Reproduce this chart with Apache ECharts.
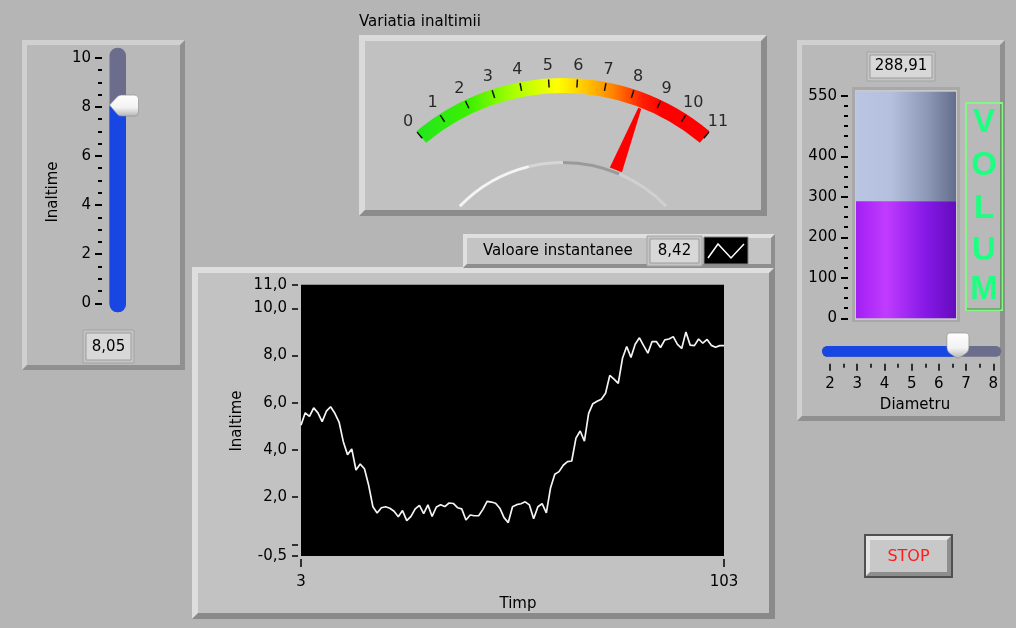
<!DOCTYPE html>
<html><head><meta charset="utf-8">
<script src="https://cdn.jsdelivr.net/npm/echarts@6/dist/echarts.min.js"></script>
<style>html,body{margin:0;padding:0;background:#b5b5b5}#c{width:1016px;height:628px}</style>
</head><body><div id="c"></div>
<script>
// ---------------- DATA ----------------
const inaltimeSlider = 8.05;          // Inaltime slider
const valoareInstantanee = 8.42;      // meter + legend value
const volum = 288.91;                 // tank
const diametru = 6.7;                 // Diametru slider
const timpStart = 3;
const timpEnd = 103;
const inaltimeSerie = [
 5.05,5.57,5.42,5.78,5.57,5.2,5.64,5.83,5.55,5.18,
 4.35,3.8,4.04,3.15,3.4,3.2,2.5,1.59,1.33,1.55,
 1.59,1.53,1.4,1.17,1.43,1.0,1.18,1.5,1.65,1.3,
 1.67,1.18,1.58,1.68,1.6,1.75,1.73,1.55,1.5,1.03,
 1.24,1.21,1.21,1.48,1.82,1.79,1.74,1.53,1.13,0.92,
 1.59,1.68,1.72,1.8,1.67,1.08,1.59,1.72,1.33,2.4,
 2.97,3.08,3.35,3.5,3.53,4.5,4.8,4.37,5.55,5.96,
 6.06,6.15,6.4,7.16,7.0,6.82,7.88,8.38,7.92,8.48,
 8.75,8.42,8.1,8.59,8.59,8.34,8.66,8.7,8.8,8.47,
 8.3,9.0,8.44,8.42,8.7,8.52,8.68,8.43,8.35,8.42,8.42
];
const graficYLabels = [-0.5, 2, 4, 6, 8, 10, 11];
const graficYTicks = [-0.5, 0, 2, 4, 6, 8, 10, 11];
const graficXLabels = [3, 103];
const volumLabels = [0, 100, 200, 300, 400, 550];
const volumMinor = [25,50,75,125,150,175,225,250,275,325,350,375,425,450,475,500,525];
const meterLabels = [0,1,2,3,4,5,6,7,8,9,10,11];
const meterMin = 0, meterMax = 11;
const sliderMin = 0, sliderMax = 10;
const diamMin = 2, diamMax = 8;
const volumMax = 550;

// ---------------- HELPERS ----------------
const FF = '"DejaVu Sans", Verdana, sans-serif';
const METER_START = 130, METER_END = 50;
function fmt(v){ return v.toFixed(2).replace('.', ','); }
function bevel(x,y,w,h,b,light,dark,face){
  return [
    {type:'rect', z:-10, shape:{x:x,y:y,width:w,height:h}, style:{fill:face}},
    {type:'polygon', z:-9, shape:{points:[[x,y],[x+w,y],[x+w-b,y+b],[x+b,y+b],[x+b,y+h-b],[x,y+h]]}, style:{fill:light}},
    {type:'polygon', z:-9, shape:{points:[[x+w,y],[x+w,y+h],[x,y+h],[x+b,y+h-b],[x+w-b,y+h-b],[x+w-b,y+b]]}, style:{fill:dark}}
  ];
}
function txt(x,y,t,opt){
  opt = opt || {};
  return {type:'text', z:10, x:x, y:y, rotation:opt.rot||0,
    style:{text:t, x:0, y:0, font:opt.font||('15px '+FF), fill:opt.fill||'#000',
      align:opt.align||'center', verticalAlign:'middle'}};
}
function box(x,y,w,h){
  return [
    {type:'rect', z:-8, shape:{x:x-3,y:y-3,width:w+6,height:h+6}, style:{fill:'#c4c4c4', stroke:'#a4a4a4', lineWidth:1}},
    {type:'rect', z:-7, shape:{x:x,y:y,width:w,height:h}, style:{fill:'#d8d8d8', stroke:'#9c9c9c', lineWidth:1}}
  ];
}
const VFONT = 'bold 33px "Liberation Sans", Arial, sans-serif';

const graphics = [].concat(
  bevel(22,40,163,330,5,'#d0d0d0','#909090','#b9b9b9'),
  bevel(359,35,408,181,6,'#dadada','#8c8c8c','#c1c1c1'),
  bevel(797,40,208,381,5,'#d0d0d0','#909090','#b9b9b9'),
  bevel(192,267,583,352,6,'#dedede','#8a8a8a','#c2c2c2'),
  bevel(463,234,312,34,4,'#e0e0e0','#8e8e8e','#c4c4c4'),
  box(86,333,45,27),
  box(870,55,62,23),
  box(650,239,49,24),
  [
    {type:'rect', z:-8, shape:{x:852,y:87,width:108,height:235}, style:{fill:'#a8a8a8'}},
    {type:'rect', z:-7, shape:{x:855,y:90,width:102,height:230}, style:{fill:'#c8c8c8'}},
    {type:'rect', z:-8, shape:{x:704,y:237,width:44,height:27}, style:{fill:'#000', stroke:'#808080', lineWidth:1}},
    {type:'polyline', z:-7, shape:{points:[[708,258],[718,244],[731,258],[744,244]]}, style:{stroke:'#fff', lineWidth:1.5, fill:null}},
    {type:'rect', z:-8, shape:{x:966,y:103,width:36,height:207}, style:{fill:'none', stroke:'#86f586', lineWidth:2}},
    {type:'polyline', z:-7, shape:{points:[[1001,104],[1001,309],[967,309]]}, style:{stroke:'#3a9a3a', lineWidth:1, fill:null}},
    {type:'rect', z:-10, shape:{x:864,y:534,width:89,height:44}, style:{fill:'#505050'}}
  ],
  bevel(866,536,85,40,4,'#e4e4e4','#8e8e8e','#c8c8c8'),
  [
    txt(359,22,'Variatia inaltimii',{align:'left'}),
    txt(53,192,'Inaltime',{rot:Math.PI/2}),
    txt(108.5,347,fmt(inaltimeSlider)),
    txt(901,66.5,fmt(volum)),
    txt(915,405,'Diametru'),
    txt(908.5,557,'STOP',{fill:'#ff1c1c', font:'16px '+FF}),
    txt(483,251,'Valoare instantanee',{align:'left'}),
    txt(674.5,251,fmt(valoareInstantanee)),
    txt(237,421,'Inaltime',{rot:Math.PI/2}),
    txt(518,604,'Timp'),
    txt(984,122.5,'V',{fill:'#1cff80', font:VFONT}),
    txt(984,165.5,'O',{fill:'#1cff80', font:VFONT}),
    txt(984,208.5,'L',{fill:'#1cff80', font:VFONT}),
    txt(984,250.5,'U',{fill:'#1cff80', font:VFONT}),
    txt(984,290,'M',{fill:'#1cff80', font:VFONT})
  ]
);

const tickBlack = {color:'#000', width:2};
const hidden = {show:false};
const noLine = {show:false, onZero:false};

const chart = echarts.init(document.getElementById('c'), null, {renderer:'canvas', width:1016, height:628});
chart.setOption({
  backgroundColor:'#b5b5b5',
  animation:false,
  textStyle:{fontFamily:FF},
  graphic:{elements:graphics},
  polar:{center:[563,306], radius:241},
  radiusAxis:{type:'value', min:0, max:1, show:false},
  angleAxis:{type:'value', min:meterMin, max:meterMin + (meterMax - meterMin) * 360 / (METER_START - METER_END),
    startAngle:METER_START, clockwise:true, show:false},
  grid:[
    {left:109.5, top:57.7, width:16.5, height:245.6, show:false},
    {left:856, top:95.7, width:100, height:222.6, show:false},
    {left:830, top:346, width:163.3, height:10.7, show:false},
    {left:301, top:284.7, width:423, height:271.4, show:true, backgroundColor:'#000', borderWidth:0}
  ],
  xAxis:[
    {gridIndex:0, type:'value', min:0, max:1, show:false, axisLine:noLine},
    {gridIndex:1, type:'value', min:0, max:1, show:false, axisLine:noLine},
    {gridIndex:2, type:'value', min:diamMin, max:diamMax, interval:1, position:'bottom', offset:7,
      axisLine:noLine, splitLine:hidden,
      axisTick:{show:true, inside:false, length:7, lineStyle:{color:'#000', width:1.5}},
      minorTick:{show:true, splitNumber:2, length:4, lineStyle:{color:'#000', width:1.5}},
      minorSplitLine:hidden,
      axisLabel:{margin:13, color:'#000', fontSize:15, fontFamily:FF}},
    {gridIndex:3, type:'value', min:timpStart, max:timpEnd, position:'bottom', offset:3,
      axisLine:noLine, splitLine:hidden,
      axisTick:{show:true, inside:false, customValues:graficXLabels, length:8, lineStyle:{color:'#000', width:1.5}},
      axisLabel:{customValues:graficXLabels, margin:16, color:'#000', fontSize:15, fontFamily:FF}}
  ],
  yAxis:[
    {gridIndex:0, type:'value', min:sliderMin, max:sliderMax, interval:2, position:'left', offset:7.5,
      axisLine:noLine, splitLine:hidden, minorSplitLine:hidden,
      axisTick:{show:true, length:7, lineStyle:tickBlack},
      minorTick:{show:true, splitNumber:4, length:4, lineStyle:tickBlack},
      axisLabel:{margin:11, color:'#000', fontSize:15, fontFamily:FF}},
    {gridIndex:1, type:'value', min:0, max:volumMax, position:'left', offset:8,
      axisLine:noLine, splitLine:hidden,
      axisTick:{show:true, customValues:volumLabels, length:7, lineStyle:tickBlack},
      axisLabel:{customValues:volumLabels, margin:11, color:'#000', fontSize:15, fontFamily:FF}},
    {gridIndex:1, type:'value', min:0, max:volumMax, position:'left', offset:8,
      axisLine:noLine, splitLine:hidden, axisLabel:hidden,
      axisTick:{show:true, customValues:volumMinor, length:4, lineStyle:tickBlack}},
    {gridIndex:2, type:'value', min:0, max:1, show:false, axisLine:noLine},
    {gridIndex:3, type:'value', min:-0.5, max:11, position:'left', offset:3,
      axisLine:noLine, splitLine:hidden,
      axisTick:{show:true, inside:false, customValues:graficYTicks, length:6, lineStyle:{color:'#000', width:1.5}},
      axisLabel:{customValues:graficYLabels, margin:11, color:'#000', fontSize:15, fontFamily:FF,
        formatter:function(v){ return v.toFixed(1).replace('.', ','); }}}
  ],
  series:[
    // meter scale
    {type:'gauge', center:[563,306], radius:228, startAngle:METER_START, endAngle:METER_END,
      min:meterMin, max:meterMax, splitNumber:meterMax - meterMin,
      axisLine:{show:true, lineStyle:{width:15, color:[[1, new echarts.graphic.LinearGradient(0,0,1,0,[
        {offset:0,color:'#22e61e'},{offset:0.18,color:'#3cf000'},{offset:0.33,color:'#a8ff00'},
        {offset:0.48,color:'#ffff00'},{offset:0.58,color:'#ffc400'},{offset:0.67,color:'#ff8400'},
        {offset:0.77,color:'#ff2000'},{offset:0.84,color:'#ff0000'},{offset:1,color:'#ff0000'}])]]}},
      splitLine:{show:true, length:8, distance:-14, lineStyle:{color:'#111', width:1.5}},
      axisTick:{show:false},
      axisLabel:{show:false},
      pointer:{show:true, icon:'path://M0,100 L10,100 L6.2,0 L3.8,0 Z', length:66, width:13,
        offsetCenter:[0,-146], itemStyle:{color:'#ff0000'}},
      anchor:{show:false}, title:{show:false}, detail:{show:false},
      data:[{value:valoareInstantanee}]},
    // meter scale labels, placed by the polar coordinate system
    {type:'scatter', coordinateSystem:'polar', symbolSize:1, itemStyle:{color:'rgba(0,0,0,0)'},
      label:{show:true, position:'inside', color:'#000', fontSize:16, fontFamily:FF,
        formatter:function(p){ return String(p.value[1]); }},
      data: meterLabels.map(function(v){ return [1, v]; })},
    // decorative pivot arc
    {type:'gauge', center:[563,306], radius:145, startAngle:136, endAngle:44, min:0, max:1,
      axisLine:{show:true, lineStyle:{width:3, color:[[0.35,'#f4f4f4'],[0.5,'#d6d6d6'],[0.75,'#9a9a9a'],[1,'#d0d0d0']]}},
      splitLine:{show:false}, axisTick:{show:false}, axisLabel:{show:false},
      pointer:{show:false}, anchor:{show:false}, title:{show:false}, detail:{show:false}, data:[]},
    // Inaltime slider
    {type:'custom', xAxisIndex:0, yAxisIndex:0, clip:false, data:[[0.5, inaltimeSlider]],
      renderItem:function(params, api){
        const v = api.value(1);
        const p0 = api.coord([0, v]), p1 = api.coord([1, v]);
        const top = api.coord([0, sliderMax])[1] - 10, bot = api.coord([0, sliderMin])[1] + 9;
        const xl = p0[0], w = p1[0]-p0[0], yv = p0[1];
        return {type:'group', children:[
          {type:'rect', shape:{x:xl,y:top,width:w,height:bot-top,r:w/2}, style:{fill:'#6c6c8c'}},
          {type:'rect', shape:{x:xl,y:yv,width:w,height:bot-yv,r:[0,0,w/2,w/2]}, style:{fill:'#1846e2'}},
          {type:'path', shape:{pathData:'M0,10 L8,1.5 Q9.5,0 12,0 L25,0 Q29,0 29,4 L29,17 Q29,21 25,21 L12,21 Q9.5,21 8,19.5 Z',
            x:xl, y:yv-10.5, width:29, height:21, layout:'cover'},
            style:{fill:new echarts.graphic.LinearGradient(0,0,0,1,[{offset:0,color:'#ffffff'},{offset:0.6,color:'#f2f2f2'},{offset:1,color:'#b4b4b4'}]),
              stroke:'#8a8a8a', lineWidth:0.6}}
        ]};
      }},
    // Volum tank
    {type:'custom', xAxisIndex:1, yAxisIndex:1, clip:false, data:[[0.5, volum]],
      renderItem:function(params, api){
        const v = api.value(1);
        const p0 = api.coord([0, v]), p1 = api.coord([1, v]);
        const top = api.coord([0, volumMax])[1] - 4, bot = api.coord([0, 0])[1];
        const xl = p0[0], w = p1[0]-p0[0], yv = p0[1];
        return {type:'group', children:[
          {type:'rect', shape:{x:xl,y:top,width:w,height:yv-top}, style:{fill:new echarts.graphic.LinearGradient(0,0,1,0,[
            {offset:0,color:'#b9c5e3'},{offset:0.35,color:'#b4c0de'},{offset:0.7,color:'#8e9ab8'},{offset:1,color:'#646e8c'}])}},
          {type:'rect', shape:{x:xl,y:yv,width:w,height:bot-yv}, style:{fill:new echarts.graphic.LinearGradient(0,0,1,0,[
            {offset:0,color:'#a21ff4'},{offset:0.3,color:'#c03cff'},{offset:0.7,color:'#8618e6'},{offset:1,color:'#640cbc'}])}}
        ]};
      }},
    // Diametru slider
    {type:'custom', xAxisIndex:2, yAxisIndex:3, clip:false, data:[[diametru, 0.5]],
      renderItem:function(params, api){
        const v = api.value(0);
        const pv = api.coord([v, 0]);
        const yTop = api.coord([diamMin, 1])[1], yBot = api.coord([diamMin, 0])[1];
        const xl = api.coord([diamMin, 0])[0] - 8, xr = api.coord([diamMax, 0])[0] + 8;
        const h = yBot - yTop;
        return {type:'group', children:[
          {type:'rect', shape:{x:xl,y:yTop,width:xr-xl,height:h,r:h/2}, style:{fill:'#6c6c8c'}},
          {type:'rect', shape:{x:xl,y:yTop,width:pv[0]-xl,height:h,r:[h/2,0,0,h/2]}, style:{fill:'#1846e2'}},
          {type:'path', shape:{pathData:'M3,0 L19,0 Q22,0 22,3 L22,14 Q22,18 19,20 L13,24 Q11,25 9,24 L3,20 Q0,18 0,14 L0,3 Q0,0 3,0 Z',
            x:pv[0]-11, y:yTop-13, width:22, height:25, layout:'cover'},
            style:{fill:new echarts.graphic.LinearGradient(0,0,0,1,[{offset:0,color:'#ffffff'},{offset:0.6,color:'#f2f2f2'},{offset:1,color:'#b4b4b4'}]),
              stroke:'#8a8a8a', lineWidth:0.6}}
        ]};
      }},
    // waveform
    {type:'line', xAxisIndex:3, yAxisIndex:4, showSymbol:false, symbol:'none',
      lineStyle:{color:'#f4f4f4', width:1.7},
      data: inaltimeSerie.map(function(v,i){ return [timpStart + i, v]; })}
  ]
});
</script></body></html>
